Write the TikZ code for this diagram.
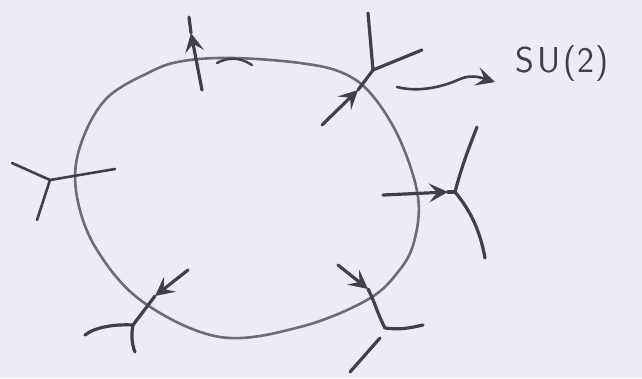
\documentclass[tikz,border=0pt]{standalone}
\usetikzlibrary{arrows.meta}
\definecolor{bgc}{RGB}{236,237,244}
\definecolor{inkc}{RGB}{64,64,74}
\definecolor{loopc}{RGB}{108,108,118}
\begin{document}
\begin{tikzpicture}[x=1pt,y=-1pt,
  ink/.style={draw=inkc,line width=3.2pt,line cap=round,line join=round},
  loopline/.style={draw=loopc,line width=2.6pt},
  tip/.style={-{Stealth[length=19pt,width=19pt,inset=8pt]}},
  lbl/.style={text=inkc,font=\sffamily\fontsize{36}{36}\selectfont,inner sep=0pt}]
\useasboundingbox (0,0) rectangle (642,378);
\fill[bgc] (0,0) rectangle (642,378);
% loop
\draw[loopline] plot[smooth cycle,tension=0.6] coordinates {
 (233,58) (300,63) (343,73) (372,95) (400,140) (418,197) (414,242) (398,272)
 (367,300) (300,327) (220,337) (143,302) (97,250) (77,197) (79,150) (105,100) (150,72) (183,61)};
\draw[ink,line width=2.4pt] (217,63) .. controls (228,57) and (240,57) .. (252,65);
% top arrow
\coordinate (tb) at (202,90);
\coordinate (tt) at (191,33);
\coordinate (te) at (189,17);
\draw[ink,tip] (tb) -- (tt);
\draw[ink] (tt) -- (te);
% SU(2) vertex
\coordinate (v2) at (373,70);
\coordinate (v2a) at (368,13);
\coordinate (v2b) at (422,50);
\coordinate (v2c) at (322,125);
\coordinate (v2t) at (358,90);
\draw[ink] (v2) -- (v2a);
\draw[ink] (v2) -- (v2b);
\draw[ink,tip] (v2c) -- (v2t);
\draw[ink] (v2t) -- (v2);
\coordinate (ws) at (397,87);
\coordinate (we) at (495,82);
\node[lbl,anchor=west] (su) at (515,64) {S\kern4pt U\kern2pt(\kern1pt2\kern1pt)};
\draw[ink,tip,line width=2.6pt] (ws) .. controls (420,93) and (445,86) .. (460,79) .. controls (472,74) and (482,78) .. (we);
% left vertex
\coordinate (v3) at (50,180);
\coordinate (v3a) at (12,163);
\coordinate (v3b) at (37,220);
\coordinate (v3c) at (115,169);
\draw[ink,line width=2.6pt] (v3) -- (v3a);
\draw[ink,line width=2.6pt] (v3) -- (v3b);
\draw[ink,line width=2.6pt] (v3) -- (v3c);
% right vertex
\coordinate (v4) at (455,192);
\coordinate (v4a) at (477,127);
\coordinate (v4b) at (485,258);
\coordinate (v4c) at (383,195);
\coordinate (v4t) at (448,192);
\draw[ink] (v4) .. controls (462,165) and (470,145) .. (v4a);
\draw[ink] (v4) .. controls (470,210) and (480,230) .. (v4b);
\draw[ink,tip] (v4c) -- (v4t);
\draw[ink] (v4t) -- (v4);
% bottom-right vertex
\coordinate (v5) at (385,328);
\coordinate (v5s) at (338,265);
\coordinate (v5t) at (368,289);
\coordinate (v5a) at (423,325);
\coordinate (v5b) at (380,338);
\coordinate (v5c) at (350,372);
\draw[ink,tip] (v5s) -- (v5t);
\draw[ink] (v5t) .. controls (374,300) and (378,315) .. (v5);
\draw[ink] (v5) .. controls (400,330) and (410,328) .. (v5a);
\draw[ink] (v5b) -- (v5c);
% bottom-left vertex
\coordinate (v6) at (133,325);
\coordinate (v6s) at (188,270);
\coordinate (v6t) at (155,296);
\coordinate (v6a) at (85,335);
\coordinate (v6b) at (135,352);
\draw[ink,tip] (v6s) -- (v6t);
\draw[ink] (v6t) -- (v6);
\draw[ink] (v6) .. controls (115,324) and (95,327) .. (v6a);
\draw[ink] (v6) .. controls (131,335) and (132,345) .. (v6b);
\end{tikzpicture}
\end{document}
